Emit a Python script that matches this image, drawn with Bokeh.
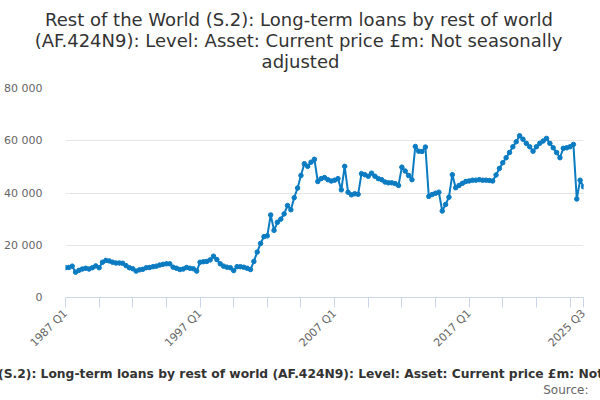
import math
from bokeh.plotting import figure
from bokeh.models import ColumnDataSource, FixedTicker, Range1d, Title
from bokeh.embed import file_html
from bokeh.resources import INLINE

# ---- data ----
title_lines = [
    "Rest of the World (S.2): Long-term loans by rest of world",
    "(AF.424N9): Level: Asset: Current price £m: Not seasonally",
    "adjusted",
]
footer_text = ("Rest of the World (S.2): Long-term loans by rest of world (AF.424N9): "
               "Level: Asset: Current price £m: Not seasonally adjusted")
source_text = "Source:"

quarters = [f"{y} Q{q}" for y in range(1987, 2026) for q in range(1, 5)][:155]

values = [
    11400, 11500, 12000, 9700, 10400, 10900, 11200, 10900, 11400, 12100,
    11400, 13500, 14200, 14000, 13500, 13200, 13200, 13100, 12200, 11400,
    11000, 10100, 10600, 10800, 11400, 11500, 11800, 12000, 12400, 12700,
    12900, 12900, 11600, 11200, 10700, 10900, 11500, 11200, 11000, 10100,
    13500, 13700, 13800, 14400, 15800, 14500, 12900, 12000, 11600, 11400,
    10300, 11800, 11800, 11600, 11200, 10700, 13800, 17400, 20700, 23300,
    23600, 31600, 25700, 28800, 30000, 32000, 35200, 33600, 38200, 41900,
    46700, 51200, 50200, 51800, 52900, 44400, 45500, 45900, 45100, 44600,
    44900, 45500, 41200, 50200, 40300, 39300, 39700, 39500, 47400, 47000,
    46400, 47600, 46400, 45500, 45100, 44200, 43900, 43900, 43600, 42900,
    49900, 48400, 46700, 45100, 57800, 56000, 55900, 57600, 38700, 39400,
    39900, 40300, 33100, 35600, 38400, 47000, 42000, 42900, 43700, 44400,
    44600, 44900, 44900, 45100, 44900, 44900, 44800, 44600, 46900, 49400,
    51600, 53500, 55500, 57700, 59600, 61900, 60600, 59000, 57700, 56000,
    57700, 59000, 59900, 60900, 59000, 57300, 55500, 53500, 57100, 57300,
    57700, 58600, 37700, 44900, 42400,
]

x_label_quarters = ["1987 Q1", "1997 Q1", "2007 Q1", "2017 Q1", "2025 Q3"]
y_ticks = [0, 20000, 40000, 60000, 80000]
y_tick_labels = ["0", "20 000", "40 000", "60 000", "80 000"]

# ---- figure ----
FONT = "DejaVu Sans"
BLUE = "#0b7bc2"

idx = list(range(len(values)))
src = ColumnDataSource(dict(x=idx, y=values, q=quarters))

p = figure(width=600, height=400, output_backend="svg", toolbar_location=None,
           title=None, x_range=Range1d(0, len(values) - 1), y_range=Range1d(0, 80000),
           min_border_left=65, min_border_right=17, min_border_top=88, min_border_bottom=103)
p.outline_line_color = None
p.background_fill_color = "white"
p.border_fill_color = "white"

p.line("x", "y", source=src, line_color=BLUE, line_width=2)
p.scatter("x", "y", source=src, size=4.5, fill_color=BLUE, line_color=BLUE)

# x axis
xt = list(range(0, len(values), 10)) + [len(values) - 1]
p.xaxis.ticker = FixedTicker(ticks=xt)
overrides = {t: "" for t in xt}
for q in x_label_quarters:
    overrides[quarters.index(q)] = q
p.xaxis.major_label_overrides = overrides
p.xaxis.major_label_orientation = math.pi / 4
p.xaxis.axis_line_color = "#ccd6eb"
p.xaxis.major_tick_line_color = "#ccd6eb"
p.xaxis.major_tick_out = 10
p.xaxis.major_tick_in = 0
p.xaxis.minor_tick_line_color = None
p.xaxis.major_label_text_font = FONT
p.xaxis.major_label_text_font_size = "11px"
p.xaxis.major_label_text_color = "#666666"
p.xaxis.major_label_standoff = 4
p.xgrid.grid_line_color = None

# y axis
p.yaxis.ticker = FixedTicker(ticks=y_ticks)
p.yaxis.major_label_overrides = {t: l for t, l in zip(y_ticks, y_tick_labels)}
p.yaxis.axis_line_color = None
p.yaxis.major_tick_line_color = None
p.yaxis.minor_tick_line_color = None
p.yaxis.major_label_text_font = FONT
p.yaxis.major_label_text_font_size = "11px"
p.yaxis.major_label_text_color = "#666666"
p.yaxis.major_label_standoff = 17
p.ygrid.grid_line_color = "#e6e6e6"
p.ygrid.ticker = FixedTicker(ticks=y_ticks)

# ---- heading (stacked upward from the frame) ----
p.add_layout(Title(text=" ", text_font_size="12px", standoff=2), "above")
title_offsets = [-20.4, -30.8, 196.1]
for line, off in reversed(list(zip(title_lines, title_offsets))):
    p.add_layout(Title(text=line, align="left", offset=off, standoff=-2,
                       text_font=FONT, text_font_size="18px",
                       text_font_style="normal", text_color="#333333"), "above")

# ---- footer ----
p.add_layout(Title(text=" ", text_font_size="4.5px", standoff=0), "below")
p.add_layout(Title(text=footer_text, align="left", offset=-193, standoff=0,
                   text_font=FONT, text_font_size="12.3px", text_font_style="bold",
                   text_color="#333333"), "below")
p.add_layout(Title(text=source_text, align="right", offset=-5, standoff=0,
                   text_font=FONT, text_font_size="12px", text_font_style="normal",
                   text_color="#666666"), "below")

open("out.html", "w").write(file_html(p, INLINE))
